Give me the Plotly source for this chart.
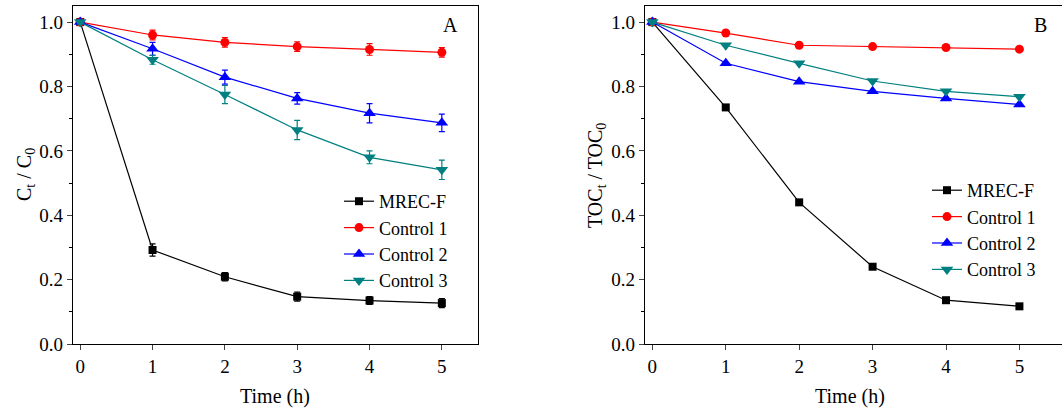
import plotly.graph_objects as go

time_h = [0, 1, 2, 3, 4, 5]
series_names = ["MREC-F", "Control 1", "Control 2", "Control 3"]
colors = ["#000000", "#ff0000", "#0000ff", "#008080"]
symbols = ["square", "circle", "triangle-up", "triangle-down"]
msizes = [8, 9, 11, 11]

# Panel A: Ct/C0
a_mrec = [1.0, 0.292, 0.209, 0.147, 0.135, 0.127]
a_c1 = [1.0, 0.960, 0.937, 0.924, 0.915, 0.906]
a_c2 = [1.0, 0.917, 0.829, 0.763, 0.717, 0.687]
a_c3 = [1.0, 0.883, 0.775, 0.665, 0.580, 0.541]
a_err_mrec = [0.005, 0.019, 0.013, 0.014, 0.012, 0.014]
a_err_c1 = [0.005, 0.015, 0.015, 0.015, 0.018, 0.015]
a_err_c2 = [0.005, 0.020, 0.022, 0.018, 0.030, 0.027]
a_err_c3 = [0.005, 0.014, 0.028, 0.030, 0.020, 0.030]

# Panel B: TOCt/TOC0
b_mrec = [1.0, 0.735, 0.440, 0.240, 0.136, 0.117]
b_c1 = [1.0, 0.966, 0.928, 0.924, 0.921, 0.916]
b_c2 = [1.0, 0.872, 0.815, 0.785, 0.763, 0.744]
b_c3 = [1.0, 0.928, 0.872, 0.817, 0.785, 0.768]

FONT = "'Liberation Serif', 'Times New Roman', Times, serif"
fig = go.Figure()

a_vals = [a_mrec, a_c1, a_c2, a_c3]
a_errs = [a_err_mrec, a_err_c1, a_err_c2, a_err_c3]
for name, vals, errs, col, sym, ms in zip(series_names, a_vals, a_errs, colors, symbols, msizes):
    fig.add_trace(go.Scatter(
        x=time_h, y=vals, name=name, mode="lines+markers",
        line=dict(color=col, width=1.2),
        marker=dict(symbol=sym, size=ms, color=col),
        error_y=dict(type="data", array=errs, color=col, thickness=1.2, width=3),
        xaxis="x", yaxis="y", legend="legend",
    ))

b_vals = [b_mrec, b_c1, b_c2, b_c3]
for name, vals, col, sym, ms in zip(series_names, b_vals, colors, symbols, msizes):
    fig.add_trace(go.Scatter(
        x=time_h, y=vals, name=name, mode="lines+markers",
        line=dict(color=col, width=1.2),
        marker=dict(symbol=sym, size=ms, color=col),
        xaxis="x2", yaxis="y2", legend="legend2",
    ))

W, H = 1062, 414
ytop = 1 - 6 / H
ybot = 1 - 344 / H

tf = dict(family=FONT, size=19, color="black")
lf = dict(family=FONT, size=18, color="black")
af = dict(family=FONT, size=20, color="black")

common_x = dict(
    tickmode="array", tickvals=time_h, ticks="outside", ticklen=5, tickwidth=1,
    showline=True, linecolor="black", linewidth=1.2, showgrid=False, zeroline=False,
    tickfont=tf, automargin=False,
)
common_y = dict(
    range=[0, 1.05], tickmode="array", tickvals=[0, 0.2, 0.4, 0.6, 0.8, 1.0],
    ticktext=["0.0", "0.2", "0.4", "0.6", "0.8", "1.0"],
    ticks="outside", ticklen=5, tickwidth=1,
    minor=dict(tickvals=[0.1, 0.3, 0.5, 0.7, 0.9], ticks="outside", ticklen=3, tickcolor="black"),
    showline=True, linecolor="black", linewidth=1.2, showgrid=False, zeroline=False,
    tickfont=tf, automargin=False,
)

def pa(x_px, y_px, text, angle=0):
    return dict(text=text, xref="paper", yref="paper", x=x_px / W, y=1 - y_px / H,
                showarrow=False, xanchor="center", yanchor="middle", textangle=angle, font=af)

fig.update_layout(
    width=W, height=H, margin=dict(l=0, r=0, t=0, b=0, autoexpand=False),
    paper_bgcolor="white", plot_bgcolor="white",
    font=tf,
    xaxis=dict(domain=[73 / W, 478 / W], range=[-0.1, 5.5], mirror=True, anchor="y", **common_x),
    yaxis=dict(domain=[ybot, ytop], anchor="x", mirror=True, **common_y),
    xaxis2=dict(domain=[645 / W, 1.0], range=[-0.1, 5.58], mirror=True, anchor="y2", **common_x),
    yaxis2=dict(domain=[ybot, ytop], anchor="x2", mirror=False, **common_y),
    legend=dict(x=339 / W, y=1 - 183 / H, xanchor="left", yanchor="top",
                bgcolor="rgba(0,0,0,0)", font=lf, itemwidth=30, tracegroupgap=0),
    legend2=dict(x=927 / W, y=1 - 172 / H, xanchor="left", yanchor="top",
                 bgcolor="rgba(0,0,0,0)", font=lf, itemwidth=30, tracegroupgap=0),
    annotations=[
        pa(450, 25, "A"),
        pa(1040, 25, "B"),
        pa(275, 396, "Time (h)"),
        pa(850, 396, "Time (h)"),
        pa(25, 175, "C<sub>t</sub> / C<sub>0</sub>", -90),
        pa(596, 176, "TOC<sub>t</sub> / TOC<sub>0</sub>", -90),
    ],
)

fig.write_html("out.html", config={"displayModeBar": False},
               post_script="document.body.style.margin='0';")
